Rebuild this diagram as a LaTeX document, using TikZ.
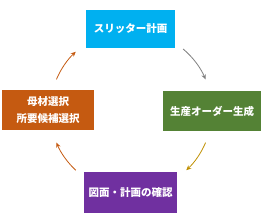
\documentclass[tikz,border=0pt]{standalone}
\usepackage{fontspec}
\newfontfamily\jp{Noto Sans CJK JP}
\usetikzlibrary{arrows.meta}
\definecolor{cTop}{HTML}{00B0F0}
\definecolor{cRight}{HTML}{548235}
\definecolor{cBottom}{HTML}{7030A0}
\definecolor{cLeft}{HTML}{C55A11}
\definecolor{aGray}{HTML}{7F7F7F}
\definecolor{aGold}{HTML}{BF8F00}
\definecolor{aOrange}{HTML}{C55A11}
\begin{document}
\begin{tikzpicture}[x=1pt,y=1pt,
  stepbox/.style={draw=none,inner sep=0pt,text=white,align=center,
    font=\jp\bfseries\fontsize{10.5}{17.5}\selectfont},
  cyc/.style={line width=0.8pt,-{Stealth[length=5pt,width=4.5pt]}}]
\useasboundingbox (0,0) rectangle (262,214);
\node[stepbox,fill=cTop,minimum width=89pt,minimum height=38pt] (top) at (130.5,185) {スリッター計画};
\node[stepbox,fill=cRight,minimum width=98pt,minimum height=40pt] (right) at (212,103) {生産オーダー生成};
\node[stepbox,fill=cBottom,minimum width=93pt,minimum height=41pt] (bottom) at (130.5,21.5) {図面・計画の確認};
\node[stepbox,fill=cLeft,minimum width=92pt,minimum height=40pt] (left) at (48,104) {母材選択\\所要候補選択};
\coordinate (c) at (131,103);
\draw[cyc,aGray] ([shift={(50:81pt)}]c) arc[start angle=50,end angle=23,radius=81pt];
\draw[cyc,aGold] ([shift={(-23:81pt)}]c) arc[start angle=-23,end angle=-47,radius=81pt];
\draw[cyc,aOrange] ([shift={(-133:81pt)}]c) arc[start angle=-133,end angle=-157,radius=81pt];
\draw[cyc,aOrange] ([shift={(157:81pt)}]c) arc[start angle=157,end angle=133,radius=81pt];
\end{tikzpicture}
\end{document}
